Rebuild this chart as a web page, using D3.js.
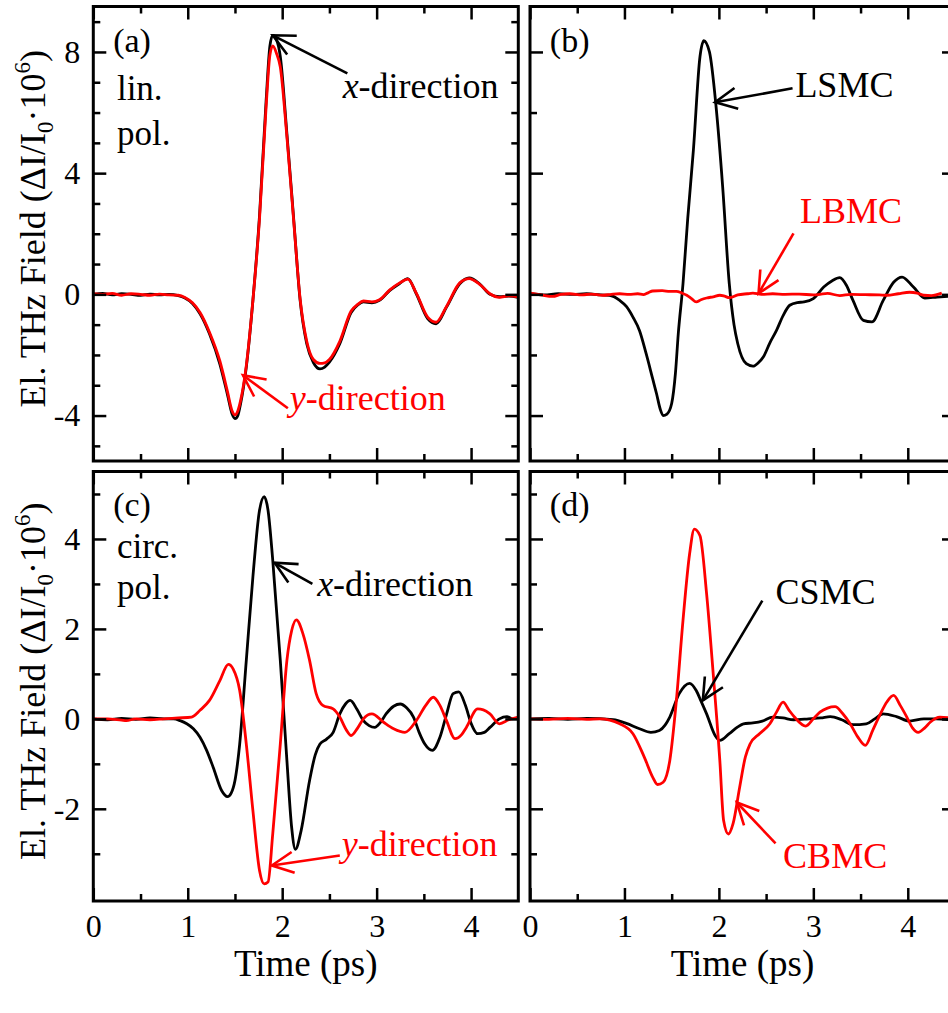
<!DOCTYPE html>
<html>
<head>
<meta charset="utf-8">
<script src="https://cdnjs.cloudflare.com/ajax/libs/d3/7.8.5/d3.min.js"></script>
<style>
  body { margin: 0; background: #fff; }
  svg { display: block; font-family: "Liberation Serif", "Times New Roman", serif; }
</style>
</head>
<body>
<div id="chart"></div>
<script>
// 1. data: [time (ps), field]

// (a) linear polarisation
var linX = [[0,0],[0.1,0.03],[0.2,-0.02],[0.3,0.02],[0.4,0.0],[0.5,-0.03],[0.6,0.01],[0.7,-0.02],[0.8,0.0],[0.9,-0.04],
  [0.97,-0.12],[1.05,-0.3],[1.13,-0.64],[1.23,-1.3],[1.34,-2.3],[1.42,-3.3],[1.47,-3.95],[1.5,-4.1],[1.53,-4.0],[1.56,-3.6],
  [1.62,-2.4],[1.69,-0.2],[1.76,2.6],[1.83,6.4],[1.87,8.2],[1.9,8.55],[1.94,8.4],[1.98,7.85],[2.05,5.3],[2.12,2.56],
  [2.19,-0.2],[2.26,-1.63],[2.33,-2.25],[2.4,-2.46],[2.45,-2.4],[2.5,-2.24],[2.61,-1.63],[2.73,-0.6],[2.8,-0.35],[2.86,-0.25],
  [2.95,-0.28],[3.03,-0.2],[3.14,0.13],[3.24,0.35],[3.33,0.52],[3.42,0.02],[3.54,-0.8],[3.63,-0.97],[3.74,-0.42],[3.88,0.35],
  [3.98,0.54],[4.09,0.35],[4.2,0.0],[4.3,-0.08],[4.4,-0.06],[4.5,-0.1]];
var linY = [[0,0.02],[0.1,0.0],[0.2,0.03],[0.3,-0.03],[0.4,0.02],[0.5,0.0],[0.6,-0.03],[0.7,0.01],[0.8,-0.02],[0.9,-0.03],
  [0.97,-0.1],[1.05,-0.28],[1.13,-0.6],[1.23,-1.25],[1.34,-2.2],[1.42,-3.2],[1.47,-3.85],[1.5,-3.98],[1.53,-3.85],[1.56,-3.5],
  [1.62,-2.35],[1.69,-0.2],[1.76,2.5],[1.83,6.2],[1.87,7.9],[1.9,8.2],[1.94,7.95],[1.98,7.5],[2.05,5.2],[2.12,2.5],
  [2.19,-0.15],[2.26,-1.55],[2.33,-2.15],[2.4,-2.28],[2.45,-2.26],[2.5,-2.15],[2.61,-1.55],[2.73,-0.55],[2.8,-0.33],[2.86,-0.22],
  [2.95,-0.25],[3.03,-0.18],[3.14,0.15],[3.24,0.37],[3.33,0.5],[3.42,0.04],[3.54,-0.75],[3.63,-0.92],[3.74,-0.4],[3.88,0.38],
  [3.98,0.52],[4.09,0.33],[4.2,0.02],[4.3,-0.1],[4.4,-0.05],[4.5,-0.08]];

// (b) LSMC / LBMC
var lsmc = [[0,0.03],[0.15,-0.02],[0.3,0.02],[0.45,0.0],[0.6,0.02],[0.75,-0.02],[0.84,-0.03],[0.95,-0.2],[1.02,-0.4],[1.09,-0.75],
  [1.16,-1.2],[1.23,-1.96],[1.3,-2.8],[1.34,-3.28],[1.38,-3.8],[1.41,-4.0],[1.45,-3.95],[1.5,-3.6],[1.54,-2.6],[1.57,-1.3],
  [1.62,0.35],[1.67,2.5],[1.73,4.76],[1.8,7.85],[1.84,8.37],[1.9,8.0],[1.97,6.2],[2.04,3.55],[2.11,0.35],[2.16,-1.0],
  [2.2,-1.63],[2.29,-2.29],[2.36,-2.37],[2.42,-2.25],[2.47,-2.07],[2.54,-1.6],[2.61,-1.19],[2.68,-0.7],[2.75,-0.36],[2.83,-0.27],
  [2.9,-0.25],[3.0,-0.14],[3.11,0.24],[3.2,0.45],[3.28,0.55],[3.35,0.3],[3.42,-0.2],[3.53,-0.86],[3.62,-0.91],[3.74,-0.2],
  [3.85,0.4],[3.94,0.57],[4.06,0.24],[4.18,-0.12],[4.31,-0.09],[4.5,-0.05]];
var lbmc = [[0,0.04],[0.12,-0.02],[0.24,-0.07],[0.33,0.0],[0.42,0.02],[0.55,-0.02],[0.65,0.01],[0.77,-0.03],[0.86,0.0],[0.95,0.02],
  [1.05,0.0],[1.14,0.02],[1.2,-0.01],[1.25,0.05],[1.3,0.11],[1.4,0.12],[1.48,0.1],[1.55,0.1],[1.61,0.04],[1.66,-0.03],
  [1.71,-0.14],[1.76,-0.25],[1.81,-0.18],[1.87,-0.12],[1.94,-0.08],[2.01,-0.03],[2.06,-0.06],[2.11,-0.11],[2.2,-0.02],[2.3,0.02],
  [2.36,0.04],[2.45,0.0],[2.57,0.02],[2.7,0.0],[2.85,0.01],[3.0,-0.02],[3.07,0.0],[3.15,0.03],[3.28,-0.04],[3.4,0.0],
  [3.55,-0.01],[3.7,-0.02],[3.78,-0.03],[3.9,0.02],[4.02,0.07],[4.1,0.04],[4.17,-0.03],[4.25,-0.04],[4.36,0.04]];

// (c) circular polarisation
var circX = [[0,0],[0.15,-0.02],[0.3,0.01],[0.45,-0.01],[0.6,0.02],[0.75,0.0],[0.85,0.0],[0.92,-0.04],[0.99,-0.11],[1.06,-0.22],
  [1.13,-0.41],[1.2,-0.7],[1.27,-1.08],[1.36,-1.6],[1.42,-1.73],[1.46,-1.65],[1.5,-1.37],[1.55,-0.56],[1.62,1.3],[1.69,3.16],
  [1.76,4.64],[1.81,4.94],[1.85,4.64],[1.9,3.53],[1.98,1.3],[2.05,-0.93],[2.1,-2.41],[2.14,-2.9],[2.2,-2.49],[2.29,-1.37],
  [2.35,-0.8],[2.4,-0.56],[2.47,-0.45],[2.54,-0.3],[2.61,0.11],[2.67,0.33],[2.72,0.41],[2.79,0.22],[2.86,-0.04],[2.92,-0.15],
  [2.98,-0.19],[3.04,-0.08],[3.1,0.11],[3.18,0.28],[3.25,0.33],[3.32,0.24],[3.39,0.04],[3.45,-0.3],[3.51,-0.56],[3.59,-0.7],
  [3.67,-0.41],[3.74,0.1],[3.81,0.56],[3.87,0.6],[3.94,0.3],[4.0,-0.1],[4.07,-0.33],[4.14,-0.3],[4.2,-0.19],[4.3,0.0],
  [4.38,0.05],[4.44,0.0],[4.5,0.0]];
var circY = [[0,0],[0.15,0.0],[0.3,-0.03],[0.35,-0.04],[0.45,0.0],[0.6,-0.02],[0.75,0.0],[0.9,0.02],[1.04,0.04],[1.13,0.19],
  [1.23,0.41],[1.34,0.85],[1.43,1.21],[1.48,1.11],[1.55,0.63],[1.62,-0.56],[1.69,-2.04],[1.76,-3.37],[1.81,-3.67],[1.85,-3.63],
  [1.9,-2.56],[1.98,-0.56],[2.05,1.3],[2.1,1.96],[2.15,2.2],[2.22,1.89],[2.29,1.3],[2.36,0.56],[2.43,0.3],[2.54,0.22],
  [2.61,0.04],[2.68,-0.25],[2.73,-0.37],[2.8,-0.2],[2.86,0.0],[2.95,0.11],[3.07,-0.07],[3.18,-0.22],[3.3,-0.3],[3.42,-0.04],
  [3.52,0.3],[3.6,0.48],[3.67,0.3],[3.74,-0.04],[3.83,-0.44],[3.9,-0.35],[3.95,-0.19],[4.07,0.22],[4.13,0.2],[4.2,0.11],
  [4.3,-0.11],[4.4,-0.02],[4.5,0.04]];

// (d) CSMC / CBMC
var csmc = [[0,0],[0.2,0.01],[0.4,-0.01],[0.6,0.01],[0.88,-0.02],[1.02,-0.1],[1.16,-0.22],[1.28,-0.3],[1.37,-0.26],[1.43,-0.14],
  [1.48,0.04],[1.58,0.56],[1.69,0.79],[1.76,0.63],[1.81,0.4],[1.87,0.11],[1.96,-0.37],[2.01,-0.48],[2.11,-0.33],[2.2,-0.18],
  [2.26,-0.11],[2.36,-0.09],[2.46,-0.05],[2.57,0.04],[2.68,0.02],[2.79,-0.02],[2.95,0.0],[3.08,0.02],[3.18,0.05],[3.3,-0.02],
  [3.42,-0.13],[3.56,-0.11],[3.65,0.0],[3.74,0.11],[3.88,0.05],[4.02,-0.05],[4.17,0.0],[4.3,0.0],[4.5,-0.03]];
var cbmc = [[0,0],[0.2,-0.01],[0.4,0.01],[0.6,-0.01],[0.74,0.0],[0.95,-0.11],[1.09,-0.33],[1.21,-0.85],[1.3,-1.3],[1.35,-1.46],
  [1.41,-1.41],[1.48,-0.93],[1.55,0.41],[1.62,2.19],[1.69,3.67],[1.74,4.22],[1.8,4.07],[1.87,2.78],[1.94,1.0],[2.01,-0.93],
  [2.05,-2.26],[2.1,-2.56],[2.15,-2.33],[2.22,-1.52],[2.28,-0.85],[2.33,-0.56],[2.43,-0.33],[2.54,-0.11],[2.61,0.15],[2.68,0.37],
  [2.74,0.2],[2.8,0.04],[2.92,-0.16],[3.0,0.0],[3.07,0.15],[3.15,0.24],[3.23,0.27],[3.31,0.12],[3.39,-0.11],[3.47,-0.4],
  [3.55,-0.59],[3.63,-0.25],[3.71,0.11],[3.78,0.38],[3.85,0.52],[3.92,0.3],[3.99,0.04],[4.05,-0.2],[4.11,-0.3],[4.18,-0.2],
  [4.24,-0.07],[4.34,0.04],[4.5,0.0]];

// tick values
var xMajor = [0, 1, 2, 3, 4];
var xMinor = [0.5, 1.5, 2.5, 3.5];
var yMajorTop = [-4, 0, 4, 8];
var yMinorA = [-5, -3, -2, -1, 1, 2, 3, 5, 6, 7, 9];
var yMinorB = [-2, 2, 6];
var yMajorBottom = [-2, 0, 2, 4];
var yMinorBottom = [-3, -1, 1, 3, 5];

// 2. layout
var svgWidth = 948;
var svgHeight = 1013;
var colLeft = [93.3, 530];
var colWidth = 425;
var rowTop = [6.5, 471.5];
var rowBottom = [461, 901];
var red = "#ff0000";

var svg = d3.select("#chart")
    .append("svg")
    .attr("width", svgWidth)
    .attr("height", svgHeight);

svg.append("rect").attr("width", svgWidth).attr("height", svgHeight).attr("fill", "#fff");

var panels = [
    {
        col: 0, row: 0, domain: [-5.5, 9.5], yMajor: yMajorTop, yMinor: yMinorA,
        series: [{ data: linX, color: "#000" }, { data: linY, color: red }],
        labels: [
            { text: "(a)", at: [0.21, 7.99], size: 34 },
            { text: "lin.", at: [0.25, 6.4], size: 35 },
            { text: "pol.", at: [0.25, 4.92], size: 35 }
        ],
        arrows: [
            { pre: "x", text: "-direction", color: "#000", at: [2.64, 6.47], from: [2.69, 7.29], to: [1.9, 8.55] },
            { pre: "y", text: "-direction", color: red, at: [2.08, -3.83], from: [2.06, -3.76], to: [1.585, -2.67] }
        ]
    },
    {
        col: 1, row: 0, domain: [-5.5, 9.5], yMajor: yMajorTop, yMinor: yMinorB,
        series: [{ data: lsmc, color: "#000" }, { data: lbmc, color: red }],
        labels: [{ text: "(b)", at: [0.21, 7.99], size: 34 }],
        arrows: [
            { text: "LSMC", color: "#000", at: [2.81, 6.5], from: [2.78, 6.8], to: [1.96, 6.34] },
            { text: "LBMC", color: red, at: [2.86, 2.34], from: [2.79, 2.01], to: [2.42, 0.03] }
        ]
    },
    {
        col: 0, row: 1, domain: [-4.05, 5.5], yMajor: yMajorBottom, yMinor: yMinorBottom,
        series: [{ data: circX, color: "#000" }, { data: circY, color: red }],
        labels: [
            { text: "(c)", at: [0.21, 4.52], size: 34 },
            { text: "circ.", at: [0.25, 3.58], size: 35 },
            { text: "pol.", at: [0.25, 2.67], size: 35 }
        ],
        arrows: [
            { pre: "x", text: "-direction", color: "#000", at: [2.37, 2.74], from: [2.32, 3.0], to: [1.92, 3.47] },
            { pre: "y", text: "-direction", color: red, at: [2.63, -3.04], from: [2.61, -3.04], to: [1.89, -3.26] }
        ]
    },
    {
        col: 1, row: 1, domain: [-4.05, 5.5], yMajor: yMajorBottom, yMinor: yMinorBottom,
        series: [{ data: csmc, color: "#000" }, { data: cbmc, color: red }],
        labels: [{ text: "(d)", at: [0.21, 4.52], size: 34 }],
        arrows: [
            { text: "CSMC", color: "#000", at: [2.6, 2.56], from: [2.46, 2.63], to: [1.83, 0.41] },
            { text: "CBMC", color: red, at: [2.68, -3.32], from: [2.6, -2.77], to: [2.19, -1.86] }
        ]
    }
];

// 3. helpers
function styleAxis(g, size) {
    g.select(".domain").remove();
    g.selectAll(".tick line").attr("stroke", "#000").attr("stroke-width", 2.5);
    g.selectAll("text")
        .attr("font-family", "'Liberation Serif', 'Times New Roman', serif")
        .attr("font-size", size)
        .attr("fill", "#000");
}

function drawArrow(g, from, to, color) {
    var ang = Math.atan2(from[1] - to[1], from[0] - to[0]);
    var barb = 24, spread = 26 * Math.PI / 180;
    g.append("line")
        .attr("x1", from[0]).attr("y1", from[1])
        .attr("x2", to[0]).attr("y2", to[1])
        .attr("stroke", color).attr("stroke-width", 2.6);
    var p = d3.path();
    p.moveTo(to[0] + barb * Math.cos(ang - spread), to[1] + barb * Math.sin(ang - spread));
    p.lineTo(to[0], to[1]);
    p.lineTo(to[0] + barb * Math.cos(ang + spread), to[1] + barb * Math.sin(ang + spread));
    g.append("path").attr("d", p.toString())
        .attr("fill", "none").attr("stroke", color).attr("stroke-width", 2.6);
}

// plain hyphen for negatives, like the original figure
var tickFmt = d => String(d);

// 4. draw every panel
panels.forEach(function (pn) {
    var left = colLeft[pn.col];
    var top = rowTop[pn.row];
    var bottom = rowBottom[pn.row];

    var x = d3.scaleLinear().domain([0, 4.5]).range([left, left + colWidth]);
    var y = d3.scaleLinear().domain(pn.domain).range([bottom, top]);

    var g = svg.append("g");

    // curves
    var line = d3.line()
        .x(d => x(d[0]))
        .y(d => y(d[1]))
        .curve(d3.curveMonotoneX);

    pn.series.forEach(function (s) {
        g.append("path")
            .datum(s.data)
            .attr("d", line)
            .attr("fill", "none")
            .attr("stroke", s.color)
            .attr("stroke-width", 2.8)
            .attr("stroke-linejoin", "round");
    });

    // x axes (bottom with labels on lower row, top mirrored)
    var showX = pn.row === 1;
    g.append("g").attr("transform", `translate(0, ${bottom})`)
        .call(d3.axisBottom(x).tickValues(xMajor).tickSize(-13).tickPadding(13)
            .tickFormat(showX ? tickFmt : ""))
        .call(a => styleAxis(a, 32));
    g.append("g").attr("transform", `translate(0, ${bottom})`)
        .call(d3.axisBottom(x).tickValues(xMinor).tickSize(-7).tickFormat(""))
        .call(a => styleAxis(a, 32));
    g.append("g").attr("transform", `translate(0, ${top})`)
        .call(d3.axisTop(x).tickValues(xMajor).tickSize(-13).tickFormat(""))
        .call(a => styleAxis(a, 32));
    g.append("g").attr("transform", `translate(0, ${top})`)
        .call(d3.axisTop(x).tickValues(xMinor).tickSize(-7).tickFormat(""))
        .call(a => styleAxis(a, 32));

    // y axes
    var showY = pn.col === 0;
    g.append("g").attr("transform", `translate(${left}, 0)`)
        .call(d3.axisLeft(y).tickValues(pn.yMajor).tickSize(-13).tickPadding(13)
            .tickFormat(showY ? tickFmt : ""))
        .call(a => styleAxis(a, 32));
    g.append("g").attr("transform", `translate(${left}, 0)`)
        .call(d3.axisLeft(y).tickValues(pn.yMinor).tickSize(-7).tickFormat(""))
        .call(a => styleAxis(a, 32));
    g.append("g").attr("transform", `translate(${left + colWidth}, 0)`)
        .call(d3.axisRight(y).tickValues(pn.yMajor).tickSize(-13).tickFormat(""))
        .call(a => styleAxis(a, 32));
    g.append("g").attr("transform", `translate(${left + colWidth}, 0)`)
        .call(d3.axisRight(y).tickValues(pn.yMinor).tickSize(-7).tickFormat(""))
        .call(a => styleAxis(a, 32));

    // frame
    g.append("rect")
        .attr("x", left).attr("y", top)
        .attr("width", colWidth).attr("height", bottom - top)
        .attr("fill", "none").attr("stroke", "#000").attr("stroke-width", 3);

    // panel letters and notes
    pn.labels.forEach(function (l) {
        g.append("text")
            .attr("x", x(l.at[0])).attr("y", y(l.at[1]))
            .attr("font-size", l.size)
            .text(l.text);
    });

    // arrows with their captions
    pn.arrows.forEach(function (a) {
        drawArrow(g, [x(a.from[0]), y(a.from[1])], [x(a.to[0]), y(a.to[1])], a.color);
        var t = g.append("text")
            .attr("x", x(a.at[0])).attr("y", y(a.at[1]))
            .attr("font-size", 36)
            .attr("fill", a.color);
        if (a.pre) t.append("tspan").attr("font-style", "italic").text(a.pre);
        t.append("tspan").text(a.text);
    });

    // axis titles
    if (showX) {
        g.append("text")
            .attr("x", left + colWidth / 2)
            .attr("y", 976)
            .attr("text-anchor", "middle")
            .attr("font-size", 37)
            .text("Time (ps)");
    }
    if (showY) {
        var yt = g.append("text")
            .attr("transform", `translate(45, ${(top + bottom) / 2 - 5}) rotate(-90)`)
            .attr("text-anchor", "middle")
            .attr("font-size", 36);
        yt.append("tspan").text("El. THz Field (\u0394I/I");
        yt.append("tspan").attr("font-size", 23).attr("dy", 8).text("0");
        yt.append("tspan").attr("dy", -8).text("\u00b710");
        yt.append("tspan").attr("font-size", 23).attr("dy", -15).text("6");
        yt.append("tspan").attr("dy", 15).text(")");
    }
});
</script>
</body>
</html>
